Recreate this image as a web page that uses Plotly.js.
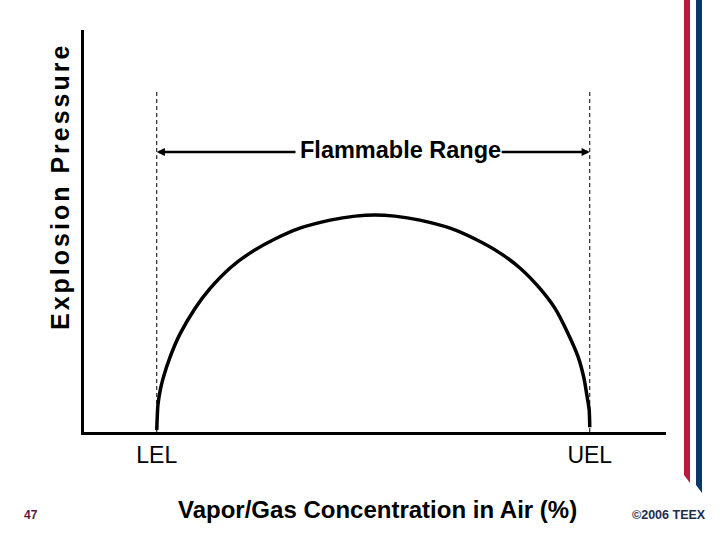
<!DOCTYPE html>
<html>
<head>
<meta charset="utf-8">
<script src="https://cdn.plot.ly/plotly-3.0.1.min.js"></script>
<style>
html,body{margin:0;padding:0;background:#fff;}
#chart{width:720px;height:540px;}
</style>
</head>
<body>
<div id="chart"></div>
<script>
// ---- data (arbitrary units: x 0-100, y 0-100) ----
const concentration = [12.5,12.7,13.1,13.6,14.8,16.5,19.1,21.6,25.1,28.5,32.8,37.1,42.3,46.6,50.0,53.4,57.7,62.9,67.2,71.5,74.9,78.4,80.9,83.2,84.9,85.9,86.4,86.8,86.9];
const pressure      = [0.5,6.7,10.4,13.4,18.7,24.4,30.8,35.6,40.8,44.5,48.0,50.7,52.7,53.7,54.0,53.7,52.7,50.7,48.0,44.5,40.8,35.6,30.8,24.4,18.7,13.4,9.2,5.5,1.2];
const limitValues   = [12.5, 86.9];          // LEL, UEL
const limitLabels   = ['LEL', 'UEL'];
const dashTop       = 84.6;                   // top of the dashed limit lines
const rangeY        = 69.65;                  // level of the flammable-range arrow
const rangeGap      = [36.6, 71.5];           // where the arrow line breaks for its label
const rangeLabel    = 'Flammable Range';
const xTitle        = 'Vapor/Gas Concentration in Air (%)';
const yTitle        = 'Explosion Pressure';
const slideNumber   = '47';
const copyright     = '\u00A92006 TEEX';

// ---- layout helpers (pixel -> paper) ----
const L = 84, R = 666, T = 30, B = 432;
const px = x => (x - L) / (R - L);
const py = y => (B - y) / (B - T);
const FONT = 'Arial, "Liberation Sans", sans-serif';

const traces = [{
  x: concentration, y: pressure, type: 'scatter', mode: 'lines',
  line: {color: '#000', width: 3.5, shape: 'spline', smoothing: 0.6},
  hoverinfo: 'skip', cliponaxis: false
}];

const shapes = [];
limitValues.forEach(v => shapes.push({
  type: 'line', xref: 'x', yref: 'y', x0: v, x1: v, y0: 0, y1: dashTop,
  line: {color: '#000', width: 1, dash: '4px,3px'}, layer: 'below'
}));
// decorative stripes on the right
shapes.push({type: 'path', xref: 'paper', yref: 'paper',
  path: `M ${px(684)} ${py(0)} L ${px(690)} ${py(0)} L ${px(690)} ${py(483)} L ${px(684)} ${py(475)} Z`,
  fillcolor: '#B81C3C', line: {width: 0}});
shapes.push({type: 'path', xref: 'paper', yref: 'paper',
  path: `M ${px(696)} ${py(0)} L ${px(702)} ${py(0)} L ${px(702)} ${py(493)} L ${px(696)} ${py(485)} Z`,
  fillcolor: '#0C3766', line: {width: 0}});

const C = {xanchor: 'center', yanchor: 'middle', showarrow: false, xref: 'paper', yref: 'paper'};
const annotations = [
  {x: limitValues[0], y: rangeY, ax: rangeGap[0], ay: rangeY, axref: 'x', ayref: 'y',
   xref: 'x', yref: 'y', text: '', showarrow: true, arrowhead: 2, arrowsize: 0.65,
   arrowwidth: 2.5, arrowcolor: '#000'},
  {x: limitValues[1], y: rangeY, ax: rangeGap[1], ay: rangeY, axref: 'x', ayref: 'y',
   xref: 'x', yref: 'y', text: '', showarrow: true, arrowhead: 2, arrowsize: 0.65,
   arrowwidth: 2.5, arrowcolor: '#000'},
  {x: (rangeGap[0] + rangeGap[1]) / 2 + 0.4, y: rangeY + 0.6, xref: 'x', yref: 'y',
   xanchor: 'center', yanchor: 'middle',
   text: rangeLabel, showarrow: false, font: {family: FONT, size: 23.5, color: '#000', weight: 'bold'}},
  Object.assign({x: px(60), y: py(186), text: yTitle, textangle: -90,
   font: {family: FONT, size: 25, color: '#000', weight: 'bold'}}, C),
  Object.assign({x: px(377), y: py(509), text: xTitle,
   font: {family: FONT, size: 24, color: '#000', weight: 'bold'}}, C),
  Object.assign({x: px(31), y: py(515), text: slideNumber,
   font: {family: FONT, size: 12, color: '#5E1836', weight: 'bold'}}, C),
  Object.assign({x: px(669), y: py(515), text: copyright,
   font: {family: FONT, size: 12.5, color: '#1C2D4E', weight: 'bold'}}, C)
];

const layout = {
  width: 720, height: 540,
  margin: {l: L, r: 720 - R, t: T, b: 540 - B, pad: 0},
  paper_bgcolor: '#fff', plot_bgcolor: '#fff',
  showlegend: false,
  xaxis: {range: [0, 100], showgrid: false, zeroline: false, showline: true,
    linecolor: '#000', linewidth: 3, tickmode: 'array', tickvals: limitValues,
    ticktext: limitLabels, ticks: '',
    tickfont: {family: FONT, size: 23, color: '#000'}, fixedrange: true},
  yaxis: {range: [0, 100], showgrid: false, zeroline: false, showline: true,
    linecolor: '#000', linewidth: 3, showticklabels: false, ticks: '', fixedrange: true},
  shapes: shapes,
  annotations: annotations
};

Plotly.newPlot('chart', traces, layout, {displayModeBar: false, staticPlot: true}).then(gd => {
  gd.querySelectorAll('.annotation-text').forEach(t => {
    if (t.textContent === yTitle) t.style.letterSpacing = '3px';
  });
});
</script>
</body>
</html>
